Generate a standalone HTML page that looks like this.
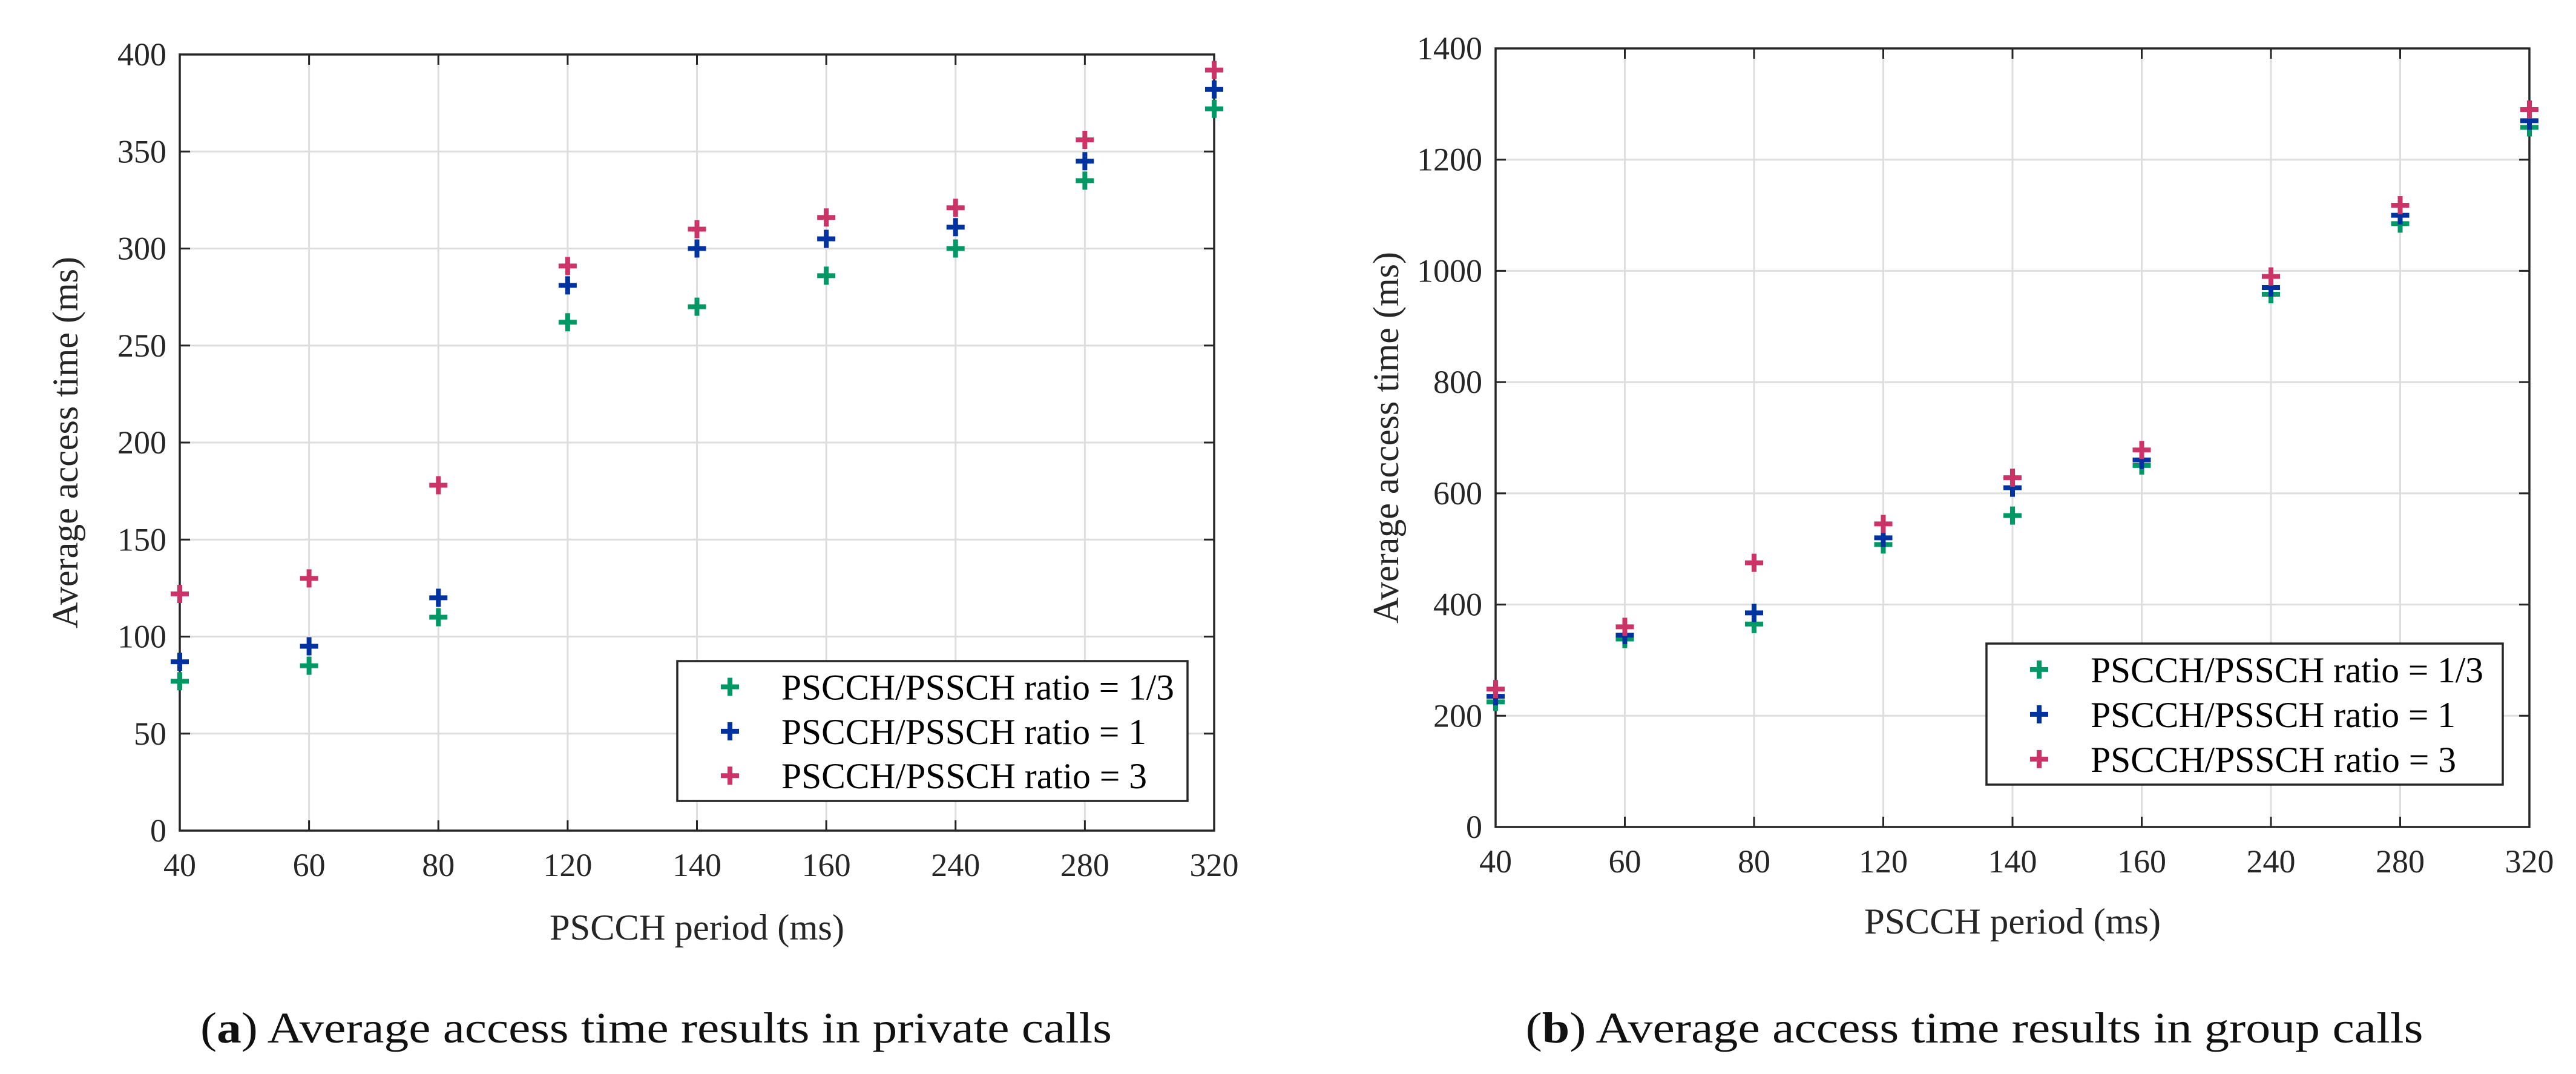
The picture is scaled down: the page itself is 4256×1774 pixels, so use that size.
<!DOCTYPE html>
<html><head><meta charset="utf-8"><style>
html,body{margin:0;padding:0;background:#fff;}
svg{display:block;font-family:"Liberation Serif",serif;}
</style></head><body>
<svg id="fig" width="4256" height="1774" viewBox="0 0 4256 1774">
<text x="1084" y="1722" font-size="72" fill="#111" text-anchor="middle" textLength="1506" lengthAdjust="spacingAndGlyphs">(<tspan font-weight="bold">a</tspan>) Average access time results in private calls</text>
<text x="3262" y="1722" font-size="72" fill="#111" text-anchor="middle" textLength="1483" lengthAdjust="spacingAndGlyphs">(<tspan font-weight="bold">b</tspan>) Average access time results in group calls</text>
</svg>
<script>
const categories = ["40","60","80","120","140","160","240","280","320"];
const seriesNames = ["PSCCH/PSSCH ratio = 1/3","PSCCH/PSSCH ratio = 1","PSCCH/PSSCH ratio = 3"];
const privGreen = [77, 85, 110, 262, 270, 286, 300, 335, 372];
const privBlue  = [87, 95, 120, 281, 300, 305, 311, 345, 382];
const privPink  = [122, 130, 178, 291, 310, 316, 321, 356, 392];
const groupGreen = [225, 338, 365, 508, 560, 650, 958, 1085, 1258];
const groupBlue  = [235, 345, 385, 520, 610, 660, 970, 1100, 1270];
const groupPink  = [248, 360, 475, 545, 628, 678, 990, 1118, 1290];
const privTicks = [0,50,100,150,200,250,300,350,400];
const groupTicks = [0,200,400,600,800,1000,1200,1400];
const colors = ["#009966","#0033a0","#cc3366"];

const NS = "http://www.w3.org/2000/svg";
const svg = document.getElementById('fig');
function mk(tag, attrs, parent){const e=document.createElementNS(NS,tag);for(const k in attrs)e.setAttribute(k,attrs[k]);(parent||svg).appendChild(e);return e;}

function chart(cfg){
  const {L,R,T,B,ymax,ticks,series,prefix,leg,ylabX,xlabY,xlabW,ylabW} = cfg;
  const g = mk('g',{});
  
  
  const n = categories.length;
  const xs = i => L + (R-L)*i/(n-1);
  const ys = v => B - (B-T)*v/ymax;
  // grid
  categories.forEach((c,i)=>{
    const l = mk('line',{x1:xs(i),x2:xs(i),y1:T,y2:B,stroke:'#dedede','stroke-width':3},g);
    
    
  });
  ticks.forEach(t=>{
    const l = mk('line',{x1:L,x2:R,y1:ys(t),y2:ys(t),stroke:'#dedede','stroke-width':3},g);
    
    
  });
  // ticks
  ticks.forEach(t=>{
    mk('line',{x1:L,x2:L+17,y1:ys(t),y2:ys(t),stroke:'#262626','stroke-width':3},g);
    mk('line',{x1:R-17,x2:R,y1:ys(t),y2:ys(t),stroke:'#262626','stroke-width':3},g);
    const tx = mk('text',{x:L-22,y:ys(t)+18,'font-size':54,fill:'#262626','text-anchor':'end'},g);
    tx.textContent = t;
    
    
  });
  categories.forEach((c,i)=>{
    mk('line',{x1:xs(i),x2:xs(i),y1:B,y2:B-17,stroke:'#262626','stroke-width':3},g);
    mk('line',{x1:xs(i),x2:xs(i),y1:T,y2:T+17,stroke:'#262626','stroke-width':3},g);
    const tx = mk('text',{x:xs(i),y:B+75,'font-size':54,fill:'#262626','text-anchor':'middle'},g);
    tx.textContent = c;
    
    
  });
  const box = mk('rect',{x:L,y:T,width:R-L,height:B-T,fill:'none',stroke:'#262626','stroke-width':3.5},g);
  
  
  // series
  series.forEach((vals,s)=>{
    vals.forEach((v,i)=>{
      const p = mk('path',{d:`M${xs(i)-15},${ys(v)}h30M${xs(i)},${ys(v)-15}v30`,stroke:colors[s],'stroke-width':8,fill:'none'},g);
      
      
    });
  });
  // legend
  const lg = mk('g',{},g);
  
  
  mk('rect',{x:leg.x1,y:leg.y1,width:leg.x2-leg.x1,height:leg.y2-leg.y1,fill:'#fff',stroke:'#262626','stroke-width':3.5},lg);
  const rowH = (leg.y2-leg.y1)/3.15;
  seriesNames.forEach((nm,s)=>{
    const cy = leg.y1 + rowH*(s+0.58);
    mk('path',{d:`M${leg.x1+72},${cy}h30M${leg.x1+87},${cy-15}v30`,stroke:colors[s],'stroke-width':8,fill:'none'},lg);
    const tx = mk('text',{x:leg.x1+172,y:cy+21,'font-size':60,fill:'#000',textLength: s===0?649:(s===1?603:604),lengthAdjust:'spacingAndGlyphs'},lg);
    tx.textContent = nm;
    
    
  });
  // axis titles
  const xl = mk('text',{x:(L+R)/2,y:xlabY,'font-size':60,fill:'#262626','text-anchor':'middle',textLength:xlabW,lengthAdjust:'spacingAndGlyphs'},g);
  xl.textContent = 'PSCCH period (ms)';
  
  
  const yl = mk('text',{x:0,y:0,'font-size':60,fill:'#262626','text-anchor':'middle',textLength:ylabW,lengthAdjust:'spacingAndGlyphs',transform:`translate(${ylabX},${(T+B)/2}) rotate(-90)`},g);
  yl.textContent = 'Average access time (ms)';
  
  
}
chart({L:297,R:2006,T:90,B:1372,ymax:400,ticks:privTicks,series:[privGreen,privBlue,privPink],prefix:'private',
  leg:{x1:1119,x2:1962,y1:1092,y2:1323},ylabX:128,xlabY:1552,xlabW:487,ylabW:614});
chart({L:2471,R:4179,T:80,B:1366,ymax:1400,ticks:groupTicks,series:[groupGreen,groupBlue,groupPink],prefix:'group',
  leg:{x1:3282,x2:4135,y1:1063,y2:1296},ylabX:2310,xlabY:1542,xlabW:490,ylabW:614});
</script>
</body></html>
